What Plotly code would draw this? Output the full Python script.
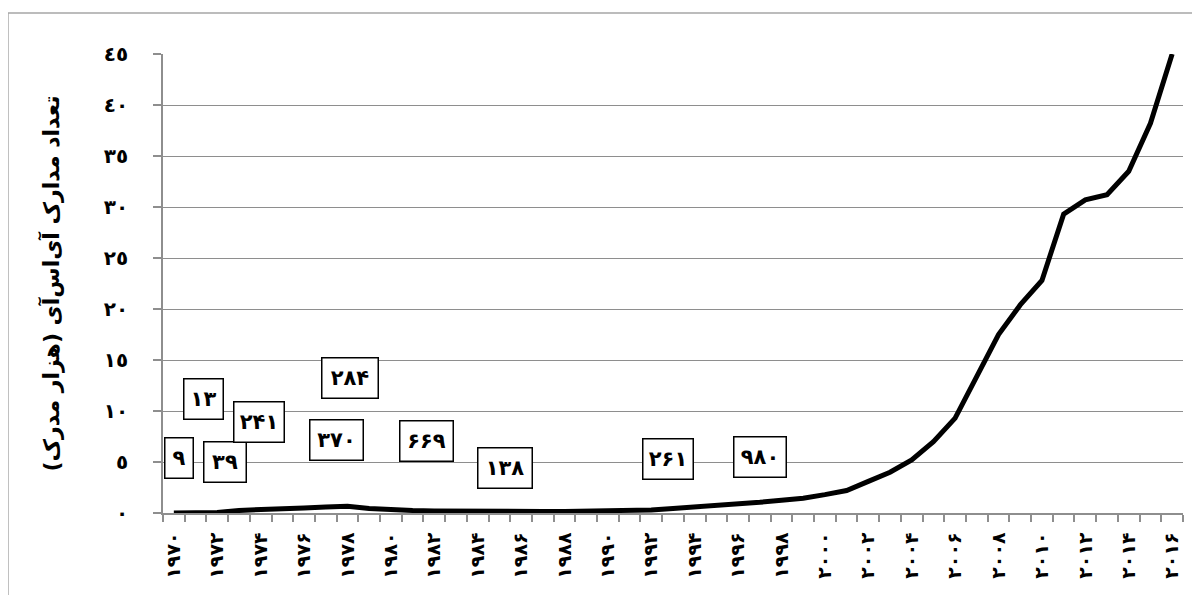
import plotly.graph_objects as go

# ---------------- data ----------------
years = list(range(1970, 2017))
docs_thousands = [
    0.0, 0.01, 0.05, 0.25, 0.30, 0.40, 0.50, 0.58, 0.65, 0.45,
    0.32, 0.25, 0.20, 0.17, 0.15, 0.15, 0.15, 0.15, 0.15, 0.17,
    0.20, 0.25, 0.30, 0.45, 0.58, 0.72, 0.85, 1.05, 1.25, 1.45,
    1.80, 2.20, 3.10, 4.00, 5.20, 7.00, 9.30, 13.5, 17.5, 20.4,
    22.8, 29.3, 30.7, 31.2, 33.5, 38.2, 45.0,
]

x_tick_years = list(range(1970, 2017, 2))
x_tick_labels = [str(y).translate(str.maketrans("0123456789", "۰۱۲۳۴۵۶۷۸۹")) for y in x_tick_years]

y_tick_values = [0, 5, 10, 15, 20, 25, 30, 35, 40, 45]
y_tick_labels = ["٠", "٥", "١٠", "١٥", "٢٠", "٢٥", "٣٠", "٣٥", "٤٠", "٤٥"]

# boxed labels: text, x (year), y (thousand docs)
box_texts = ["۹", "۱۳", "۳۹", "۲۴۱", "۲۸۴", "۳۷۰", "۶۶۹", "۱۳۸", "۲۶۱", "۹۸۰"]
box_x = [1970.22, 1971.37, 1972.35, 1973.94, 1978.12, 1977.49, 1981.65, 1985.27, 1992.78, 1996.99]
box_y = [5.41, 11.13, 5.0, 8.97, 13.24, 7.11, 7.06, 4.44, 5.27, 5.52]
box_w = [27, 38, 41, 49, 55, 52, 52, 53, 49, 51]

y_title = "تعداد مدارک آی‌اس‌آی (هزار مدرک)"

# ---------------- figure ----------------
FONT = "DejaVu Sans"
GRID = "#8e8e8e"

fig = go.Figure()
fig.add_trace(go.Scatter(
    x=years, y=docs_thousands, mode="lines",
    line=dict(color="black", width=5),
    hoverinfo="skip", showlegend=False,
))

annotations = []
for t, xv, yv, w in zip(box_texts, box_x, box_y, box_w):
    annotations.append(dict(
        x=xv, y=yv, xref="x", yref="y", text="<b>" + t + "</b>",
        showarrow=False, font=dict(family=FONT, size=21, color="black"),
        bordercolor="black", borderwidth=1.5, borderpad=0,
        width=w, height=39, bgcolor="white",
    ))

fig.update_layout(
    width=1200, height=595,
    margin=dict(l=155, r=25, t=46, b=90),
    paper_bgcolor="white", plot_bgcolor="white",
    annotations=annotations,
    shapes=[dict(type="rect", xref="paper", yref="paper",
                 x0=-0.152, x1=1.0157, y0=-0.25, y1=1.0893,
                 line=dict(color="#a6a6a6", width=1.5), layer="below")],
    font=dict(family=FONT, color="black"),
)

fig.update_xaxes(
    range=[1969.5, 2016.5],
    tickmode="array", tickvals=x_tick_years, ticktext=x_tick_labels,
    tickangle=-90, ticks="",
    tickfont=dict(family=FONT, size=19, color="black", weight="bold"),
    ticklabelstandoff=10,
    showline=True, linecolor=GRID, linewidth=1.5,
    showgrid=False, zeroline=False,
    minor=dict(tickmode="array",
               tickvals=[y - 0.5 for y in years] + [years[-1] + 0.5],
               ticks="outside", ticklen=7, tickcolor=GRID, tickwidth=1.5,
               showgrid=False),
)

fig.update_yaxes(
    range=[0, 45],
    tickmode="array", tickvals=y_tick_values, ticktext=y_tick_labels,
    ticks="outside", ticklen=8, tickcolor=GRID, tickwidth=1.5,
    tickfont=dict(family=FONT, size=20, color="black", weight="bold"),
    ticklabelstandoff=21,
    showline=True, linecolor=GRID, linewidth=1.5,
    showgrid=True, gridcolor=GRID, gridwidth=1.2,
    zeroline=False,
    title=dict(text="<b>" + y_title + "</b>",
               font=dict(family=FONT, size=22, color="black"),
               standoff=38),
)

fig.write_html("out.html")
